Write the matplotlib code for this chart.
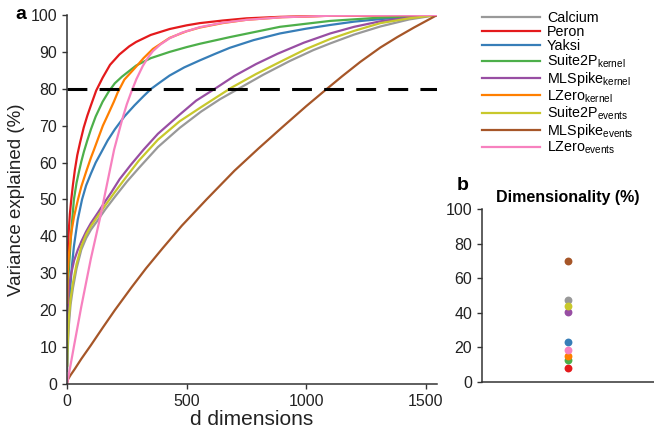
import matplotlib
matplotlib.use("Agg")
import matplotlib.pyplot as plt

plt.rcParams['font.family'] = ['Liberation Sans', 'DejaVu Sans']
plt.rcParams['mathtext.fontset'] = 'custom'
plt.rcParams['mathtext.rm'] = 'Liberation Sans'
plt.rcParams['mathtext.it'] = 'Liberation Sans:italic'

N_DIMS = 1547

# --- curves: (dimensions, variance explained %) ---
calcium_d = [1, 3, 8, 15, 25, 40, 60, 80, 100, 130, 160, 200, 250, 300, 380, 471, 560,
             640, 722, 820, 930, 1030, 1100, 1200, 1310, 1430, 1547]
calcium_v = [3.5, 9, 16, 21.5, 26, 31.3, 36.4, 39.5, 41.8, 44.5, 47.3, 50.7, 54.8, 58.5, 64.2,
             69.4, 73.8, 77.2, 80.2, 83.8, 87.5, 90.5, 92.3, 94.7, 96.9, 98.8, 100]

peron_d = [1, 3, 7, 12, 18, 25, 33, 43, 55, 70, 85, 100, 122, 149, 180, 219, 260, 289, 350,
           429, 500, 555, 650, 750, 890, 1100, 1547]
peron_v = [28, 35, 41, 46, 50, 54, 58, 62, 65.5, 69.5, 72.7, 75.5, 79.5, 83, 86.5, 89.3, 91.5,
           92.7, 94.6, 96.2, 97.2, 97.8, 98.5, 99.1, 99.5, 99.8, 100]

yaksi_d = [1, 4, 11, 20, 29, 45, 63, 80, 100, 120, 141, 170, 200, 240, 282, 320, 352, 390, 429,
           490, 555, 620, 680, 780, 890, 1000, 1100, 1200, 1310, 1430, 1547]
yaksi_v = [5, 15, 23.7, 31.5, 37.3, 44.5, 50, 53.8, 57, 60, 62.5, 66, 69, 72.5, 75.5, 78, 80,
           81.8, 83.6, 85.8, 87.7, 89.5, 91.1, 93.2, 95, 96.3, 97.3, 98.2, 98.9, 99.5, 100]

s2p_kernel_d = [1, 3, 7, 14, 20, 29, 40, 50, 60, 71, 85, 100, 120, 149, 175, 200, 230, 289,
                350, 429, 500, 555, 680, 890, 1100, 1310, 1547]
s2p_kernel_v = [9, 20, 30, 37.3, 43, 50, 54.5, 57.5, 60.3, 63, 66, 69, 72.5, 76.5, 79.3, 81.5,
                83.3, 86.3, 88.3, 90, 91.3, 92.2, 94, 96.8, 98.4, 99.3, 100]

mls_kernel_d = [1, 3, 8, 18, 30, 45, 60, 80, 100, 130, 160, 186, 220, 267, 320, 380, 471, 540,
                618, 700, 790, 880, 990, 1100, 1200, 1310, 1430, 1547]
mls_kernel_v = [13, 20, 26, 30, 33.5, 36.3, 38.6, 41.3, 43.6, 46.5, 49.5, 52, 55.5, 59.4, 63.5,
                67.8, 73, 76.8, 80, 83.5, 86.7, 89.5, 92.5, 95, 96.8, 98.3, 99.3, 100]

lzero_kernel_d = [1, 3, 8, 18, 30, 46, 60, 80, 100, 113, 130, 150, 175, 196, 212, 240, 289,
                  320, 359, 429, 500, 555, 650, 750, 900, 1100, 1547]
lzero_kernel_v = [22, 30, 35, 41, 45.5, 50, 53.5, 57.5, 61.3, 63.5, 66.5, 70, 73.5, 76.5, 79,
                  82.5, 86, 88.3, 90.8, 93.8, 95.6, 96.6, 97.8, 98.7, 99.4, 99.8, 100]

s2p_events_d = [1, 3, 8, 15, 25, 40, 60, 80, 100, 130, 160, 200, 250, 300, 380, 471, 560, 687,
                790, 900, 1000, 1100, 1200, 1310, 1430, 1547]
s2p_events_v = [5, 11, 18, 23, 27.4, 32.5, 37.3, 40.5, 42.8, 45.6, 48.4, 52, 56.3, 60.5, 66.2,
                71.2, 75, 80.3, 84, 87.6, 90.8, 93.5, 95.7, 97.8, 99.1, 100]

mls_events_d = [0, 4, 15, 32, 60, 100, 150, 200, 270, 330, 400, 480, 583, 700, 800, 900, 1000,
                1079, 1150, 1226, 1310, 1380, 1450, 1547]
mls_events_v = [0, 1.2, 2.4, 4.0, 6.8, 10.5, 15.3, 20, 26.2, 31.3, 36.8, 42.9, 50, 57.8, 63.8,
                69.6, 75.3, 79.6, 83.4, 87.3, 91.2, 94, 96.6, 100]

lzero_events_d = [0, 4, 30, 60, 100, 140, 170, 197, 230, 250, 268, 290, 317, 340, 359, 390, 429,
                  480, 555, 650, 750, 900, 1100, 1547]
lzero_events_v = [0, 1.2, 10.5, 21, 34, 45.5, 55, 63.5, 71.5, 75.8, 79, 82.6, 86.2, 88.6, 90.2,
                  92, 93.7, 95.2, 96.7, 97.9, 98.7, 99.4, 99.8, 100]

labels = ['Calcium', 'Peron', 'Yaksi',
          r'Suite2P$_{\mathrm{kernel}}$', r'MLSpike$_{\mathrm{kernel}}$', r'LZero$_{\mathrm{kernel}}$',
          r'Suite2P$_{\mathrm{events}}$', r'MLSpike$_{\mathrm{events}}$', r'LZero$_{\mathrm{events}}$']
colors = ['#999999', '#e41a1c', '#377eb8', '#4daf4a', '#984ea3', '#ff7f00',
          '#c8c82c', '#a65628', '#f781bf']

# dimensionality (% of dims needed for 80% variance)
dimensionality = [47.2, 7.9, 23.1, 12.5, 40.3, 14.8, 44.1, 69.9, 18.5]

curves = [(calcium_d, calcium_v), (peron_d, peron_v), (yaksi_d, yaksi_v),
          (s2p_kernel_d, s2p_kernel_v), (mls_kernel_d, mls_kernel_v),
          (lzero_kernel_d, lzero_kernel_v), (s2p_events_d, s2p_events_v),
          (mls_events_d, mls_events_v), (lzero_events_d, lzero_events_v)]

fig = plt.figure(figsize=(6.54, 4.29), dpi=100)
ax = fig.add_axes([0.1024, 0.105, 0.566, 0.860])
axb = fig.add_axes([0.737, 0.1096, 0.263, 0.403])

spine_col = '#333333'
for a in (ax, axb):
    for s in ('top', 'right'):
        a.spines[s].set_visible(False)
    for s in ('left', 'bottom'):
        a.spines[s].set_color(spine_col)
        a.spines[s].set_linewidth(1.1)
    a.tick_params(colors=spine_col, labelcolor='#222222', labelsize=11.5, length=3.5, width=1.0)

# --- panel a ---
for (d, v), lab, c in zip(curves, labels, colors):
    ax.plot(d, v, color=c, lw=1.6, label=lab)
ax.plot([0, N_DIMS], [80, 80], color='black', lw=2.2, ls=(0, (6.5, 4.0)))
ax.set_xlim(0, N_DIMS)
ax.set_ylim(0, 100)
ax.set_xticks([0, 500, 1000, 1500])
ax.set_yticks(range(0, 101, 10))
ax.set_xlabel('d dimensions', fontsize=15, color='#222222', labelpad=1)
ax.set_ylabel('Variance explained (%)', fontsize=13.5, color='#222222', labelpad=4)

fig.legend(loc='upper left', bbox_to_anchor=(0.7365, 0.975), frameon=False,
           fontsize=10.3, handlelength=4.1, handletextpad=0.45, labelspacing=0.0,
           borderpad=0, borderaxespad=0)

# --- panel b ---
for val, c in zip(dimensionality, colors):
    axb.scatter([1], [val], s=32, color=c, zorder=3, linewidths=0)
axb.set_xlim(0, 2)
axb.set_ylim(0, 100)
axb.set_xticks([])
axb.set_yticks(range(0, 101, 20))
axb.set_title('Dimensionality (%)', fontsize=11.5, fontweight='bold', pad=5)

fig.text(0.023, 0.966, 'a', fontsize=14, fontweight='bold', va='center')
fig.text(0.698, 0.567, 'b', fontsize=14, fontweight='bold', va='center')

fig.savefig('out.png', dpi=100)
